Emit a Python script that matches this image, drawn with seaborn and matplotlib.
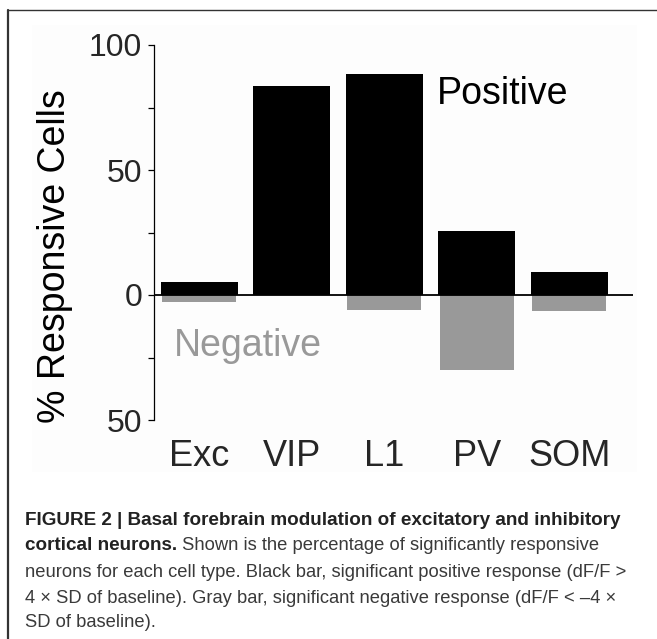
import numpy as np
import pandas as pd
import matplotlib
matplotlib.use("Agg")
import matplotlib.pyplot as plt
from matplotlib.lines import Line2D
from matplotlib.patches import Rectangle
import seaborn as sns

# values (% of cells)
cell_types = ["Exc", "VIP", "L1", "PV", "SOM"]
positive = [5.2, 83.7, 88.3, 25.5, 9.2]
negative = [2.6, 0.0, 6.1, 29.9, 6.4]

y_ticks = [-50, 0, 50, 100]
y_ticklabels = ["50", "0", "50", "100"]

caption_lines = [
    "FIGURE 2 | Basal forebrain modulation of excitatory and inhibitory",
    "cortical neurons.",
    " Shown is the percentage of significantly responsive",
    "neurons for each cell type. Black bar, significant positive response (dF/F >",
    "4 \u00d7 SD of baseline). Gray bar, significant negative response (dF/F < \u20134 \u00d7",
    "SD of baseline).",
]

df = pd.DataFrame({"cell": cell_types, "pos": positive,
                   "neg": [-v for v in negative]})

sns.set_theme(style="ticks")
plt.rcParams["font.family"] = ["Liberation Sans", "DejaVu Sans"]

W, H = 657, 639
fig = plt.figure(figsize=(W / 100, H / 100), dpi=100)
fig.patch.set_facecolor("white")

# faint backdrop of the pasted chart + frame lines
fig.patches.append(Rectangle((32 / W, 1 - 472 / H), (637 - 32) / W, (472 - 25) / H,
                             transform=fig.transFigure, facecolor="#fdfdfd",
                             edgecolor="none", zorder=-5))
fig.lines.append(Line2D([8 / W, 8 / W], [0, 1 - 10 / H], transform=fig.transFigure,
                        color="#333333", lw=1.6, zorder=-4))
fig.lines.append(Line2D([8 / W, 1], [1 - 10 / H, 1 - 10 / H], transform=fig.transFigure,
                        color="#333333", lw=1.0, zorder=-4))

ax = fig.add_axes([154 / W, 1 - 420 / H, (633 - 154) / W, (420 - 45) / H])
ax.set_zorder(2)
ax.set_facecolor("none")

sns.barplot(data=df, x="cell", y="pos", color="black", saturation=1,
            width=0.83, linewidth=0, ax=ax, zorder=2)
sns.barplot(data=df, x="cell", y="neg", color="#999999", saturation=1,
            width=0.80, linewidth=0, ax=ax, zorder=2)

ax.axhline(0, color="black", lw=1.3, zorder=3)

ax.set_xlim(-0.49, 4.69)
ax.set_ylim(-50, 100)
ax.set_yticks(y_ticks)
ax.set_yticklabels(y_ticklabels, fontsize=23)
ax.set_yticks([-25, 25, 75], minor=True)
ax.tick_params(axis="y", which="both", length=4.5, width=0.9, color="black", pad=4)
ax.tick_params(axis="x", length=0, labelsize=26, pad=14)

sns.despine(ax=ax, bottom=True)
ax.spines["left"].set_linewidth(0.9)
ax.spines["left"].set_color("black")

ax.set_xlabel("")
ax.set_ylabel("% Responsive Cells", fontsize=27, color="black")
ax.yaxis.set_label_coords(-0.169, 0.437)

ax.text(2.57, 76.5, "Positive", fontsize=27, color="black", va="baseline", ha="left")
ax.text(-0.27, -24.3, "Negative", fontsize=27, color="#999999", va="baseline", ha="left")

# caption
x0 = 25 / W
baselines = [525, 550, 577, 603, 627]
bold_c, reg_c = "#222222", "#3a3a3a"
bold_size, reg_size = 13.6, 13.2
fig.text(x0, 1 - baselines[0] / H, caption_lines[0], fontsize=bold_size,
         weight="bold", color=bold_c, va="baseline")
b = fig.text(x0, 1 - baselines[1] / H, caption_lines[1], fontsize=bold_size,
             weight="bold", color=bold_c, va="baseline")
fig.canvas.draw()
ext = b.get_window_extent(renderer=fig.canvas.get_renderer())
fig.text(ext.x1 / W, 1 - baselines[1] / H, caption_lines[2],
         fontsize=reg_size, color=reg_c, va="baseline")
for line, bl in zip(caption_lines[3:], baselines[2:]):
    fig.text(x0, 1 - bl / H, line, fontsize=reg_size, color=reg_c, va="baseline")

fig.savefig("out.png", dpi=100)
